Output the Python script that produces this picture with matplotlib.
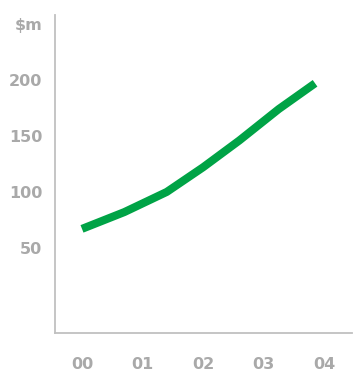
import matplotlib
matplotlib.use("Agg")
import matplotlib.pyplot as plt

# Data
x_pos = [0, 0.7, 1.4, 2.0, 2.6, 3.25, 3.85]
values = [67, 82, 100, 122, 146, 174, 197]
x_ticks = [0, 1, 2, 3, 4]
x_labels = ["00", "01", "02", "03", "04"]
y_ticks = [50, 100, 150, 200, 250]
y_labels = ["50", "100", "150", "200", "$m"]

fig = plt.figure(figsize=(3.54, 3.72), dpi=100)
ax = fig.add_axes([55/354, 1 - 333/372, (352-55)/354, (333-15)/372])

ax.plot(x_pos, values, color="#00A346", lw=5.8, solid_capstyle="butt")

ax.set_xlim(-0.446, 4.46)
ax.set_ylim(-26, 258)

ax.set_xticks(x_ticks)
ax.set_xticklabels(x_labels)
ax.set_yticks(y_ticks)
ax.set_yticklabels(y_labels)

for s in ["top", "right"]:
    ax.spines[s].set_visible(False)
for s in ["left", "bottom"]:
    ax.spines[s].set_color("#c0c0c0")
    ax.spines[s].set_linewidth(1.3)

ax.tick_params(axis="both", length=0, colors="#a9a9a9")
ax.tick_params(axis="y", pad=9)
ax.tick_params(axis="x", pad=17)
for lab in ax.get_xticklabels() + ax.get_yticklabels():
    lab.set_fontfamily("DejaVu Sans")
    lab.set_fontweight("bold")
    lab.set_fontsize(11.5)

fig.savefig("out.png", dpi=100)
